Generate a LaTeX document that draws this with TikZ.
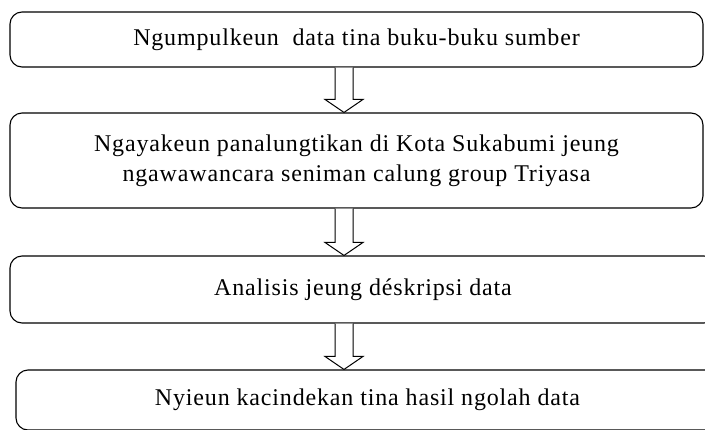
\documentclass[tikz,border=0pt]{standalone}
\usepackage{fontspec}
\setmainfont{Liberation Serif}[LetterSpace=3.5]
\usetikzlibrary{calc}
\tikzset{
  stepbox/.style={draw=black, line width=1.1pt, rounded corners=12pt, align=center, inner sep=0pt, font=\fontsize{24}{30}\selectfont},
  blockarr/.style={draw=black, line width=1pt, fill=white, line join=miter},
}
\begin{document}
\begin{tikzpicture}[x=1pt, y=-1pt]
  \useasboundingbox (0,0) rectangle (705,429);
  \clip (0,0) rectangle (705,429);
  \node[stepbox, minimum width=693pt, minimum height=55pt] (ngumpul) at (356.5,39.5) {Ngumpulkeun \ data tina buku-buku sumber};
  \node[stepbox, minimum width=693pt, minimum height=95pt] (panalungtikan) at (356.5,160.5) {Ngayakeun panalungtikan di Kota Sukabumi jeung\\ngawawancara seniman calung group Triyasa};
  \node[stepbox, minimum width=706pt, minimum height=67pt] (analisis) at (363,289.5) {Analisis jeung déskripsi data};
  \node[stepbox, minimum width=703pt, minimum height=60pt] (kacindekan) at (367.5,400) {Nyieun kacindekan tina hasil ngolah data};
  \coordinate (ax) at (344,0);
  \foreach \a/\b in {ngumpul/panalungtikan, panalungtikan/analisis, analisis/kacindekan}
    { \draw[blockarr] let \p1=(\a.south -| ax), \p2=(\b.north -| ax) in
        ({\x1-9pt},\y1) -- ({\x1-9pt},{\y2+13pt}) -- ({\x1-19pt},{\y2+13pt}) -- (\x1,\y2)
        -- ({\x1+19pt},{\y2+13pt}) -- ({\x1+9pt},{\y2+13pt}) -- ({\x1+9pt},\y1); }
\end{tikzpicture}
\end{document}
